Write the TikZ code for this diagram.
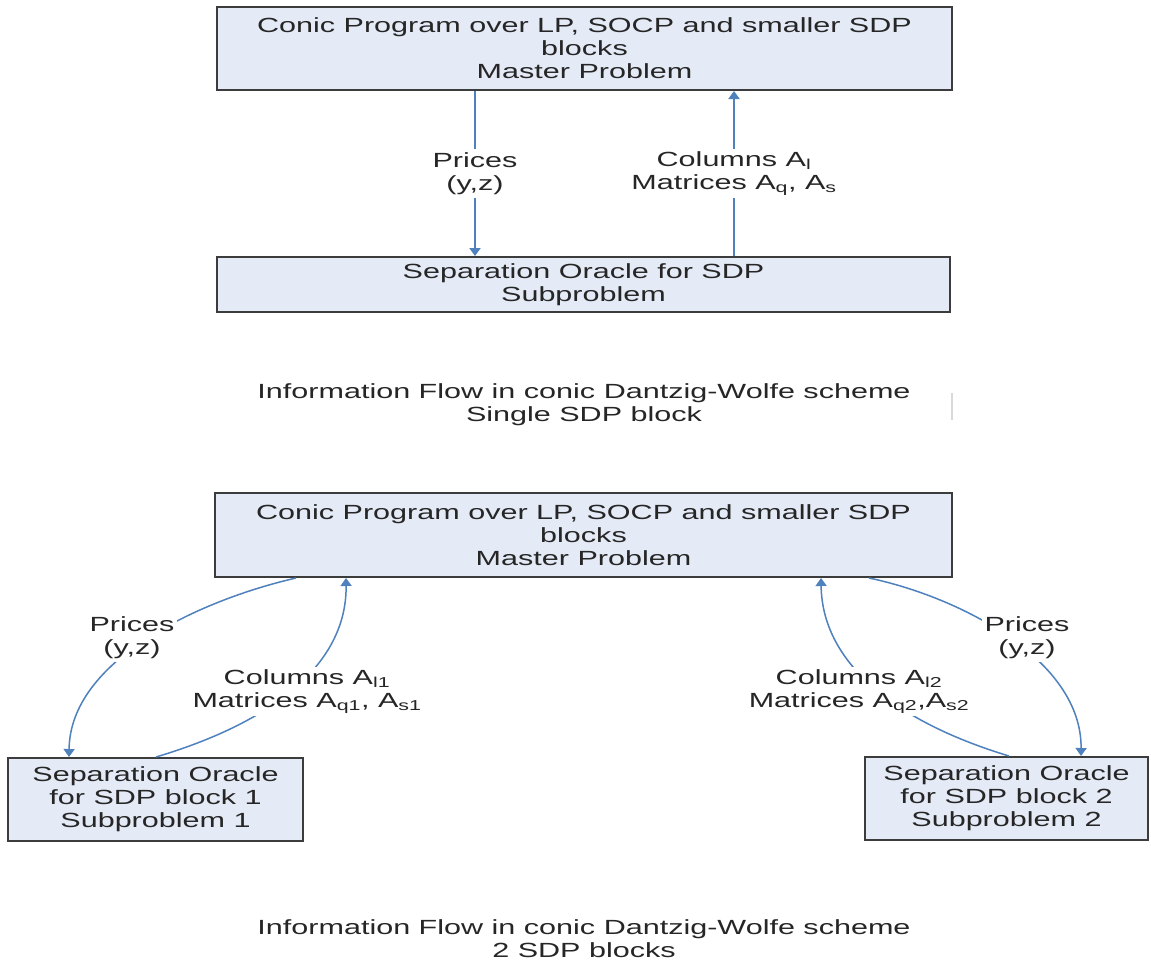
\documentclass[tikz,border=0pt]{standalone}
\usepackage{fontspec}
\setmainfont{Liberation Sans}[FakeStretch=1.49]
\usetikzlibrary{arrows.meta}
\definecolor{boxfill}{RGB}{228,234,246}
\definecolor{boxline}{RGB}{60,60,60}
\definecolor{arrblue}{RGB}{79,129,189}
\tikzset{
  txt/.style={font=\fontsize{20.5}{23}\selectfont, align=center, text=black!85},
  box/.style={txt, draw=boxline, line width=2pt, fill=boxfill, inner sep=0pt},
  arr/.style={draw=arrblue, line width=2.4pt, -{Triangle[width=11pt,length=8pt]}},
  carr/.style={draw=arrblue, line width=1.5pt, -{Triangle[width=11pt,length=8pt]}},
  lab/.style={txt, fill=white, inner sep=3pt}
}
\begin{document}
\begin{tikzpicture}[x=1pt,y=-1pt]
\useasboundingbox[fill=white] (0,0) rectangle (1151,962);

% ---- single SDP block ----
\node[box, minimum width=735pt, minimum height=83pt] (t1) at (584.5,48.5)
  {Conic Program over LP, SOCP and smaller SDP\\blocks\\Master Problem};
\node[box, minimum width=733pt, minimum height=55pt] (b1) at (583.5,284.5)
  {Separation Oracle for SDP\\Subproblem};

\draw[arr] ([xshift=259pt]t1.south west) -- ([xshift=259pt]b1.north west)
  node[lab, midway] (lp0) {Prices\\(y,z)};
\draw[arr] ([xshift=518pt]b1.north west) -- ([xshift=518pt]t1.south west)
  node[lab, midway] (lc0) {Columns A\textsubscript{l}\\Matrices A\textsubscript{q}, A\textsubscript{s}};

\node[txt] (cap1) at (584,404.5) {Information Flow in conic Dantzig-Wolfe scheme\\Single SDP block};
\draw[black!15, line width=1.5pt] (952,393) -- (952,420);

% ---- two SDP blocks ----
\node[box, minimum width=737pt, minimum height=84pt] (m2) at (583.5,535)
  {Conic Program over LP, SOCP and smaller SDP\\blocks\\Master Problem};
\node[box, minimum width=295pt, minimum height=83pt] (s1) at (155.5,799.5)
  {Separation Oracle\\for SDP block 1\\Subproblem 1};
\node[box, minimum width=283pt, minimum height=83pt] (s2) at (1006.5,798.5)
  {Separation Oracle\\for SDP block 2\\Subproblem 2};

\draw[carr] ([xshift=82pt]m2.south west) .. controls (200,600) and (70,660) .. ([xshift=62pt]s1.north west);
\draw[carr] ([xshift=149pt]s1.north west) .. controls (280,720) and (347,660) .. ([xshift=132pt]m2.south west);
\draw[carr] ([xshift=145pt]s2.north west) .. controls (890,720) and (822,660) .. ([xshift=607pt]m2.south west);
\draw[carr] ([xshift=655pt]m2.south west) .. controls (960,597) and (1082,660) .. ([xshift=217pt]s2.north west);

\node[lab] (lp1) at (132,638) {Prices\\(y,z)};
\node[lab] (lc1) at (307,691.5) {Columns A\textsubscript{l1}\\Matrices A\textsubscript{q1}, A\textsubscript{s1}};
\node[lab] (lc2) at (859,691.5) {Columns A\textsubscript{l2}\\Matrices A\textsubscript{q2},A\textsubscript{s2}};
\node[lab] (lp2) at (1027,638) {Prices\\(y,z)};

\node[txt] (cap2) at (584,938.5) {Information Flow in conic Dantzig-Wolfe scheme\\2 SDP blocks};
\end{tikzpicture}
\end{document}
